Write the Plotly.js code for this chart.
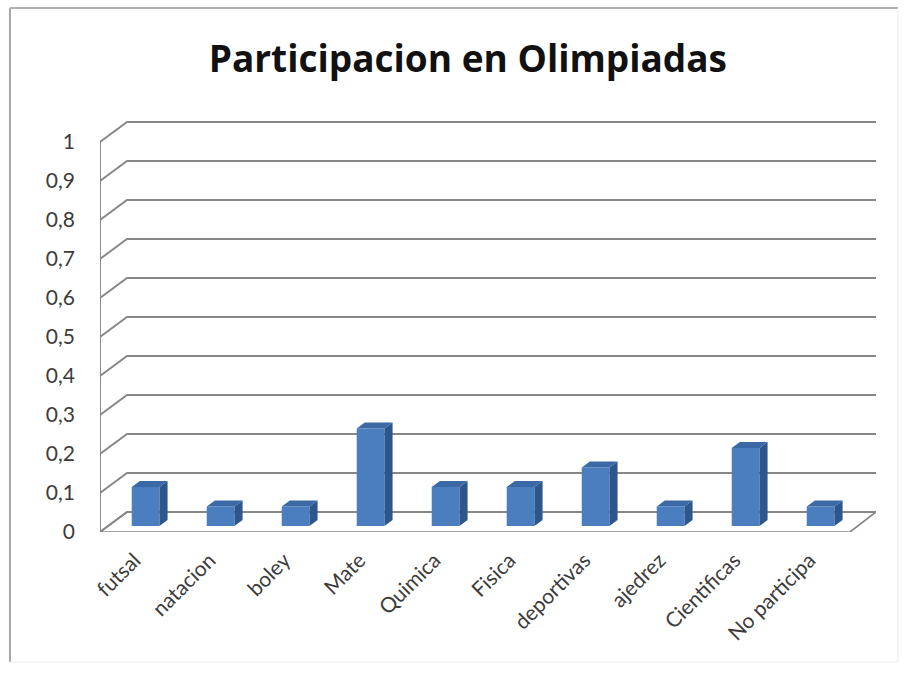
<!DOCTYPE html>
<html>
<head>
<meta charset="utf-8">
<script src="https://cdn.plot.ly/plotly-3.0.1.min.js"></script>
<style>html,body{margin:0;padding:0;background:#fff;}#chart{width:912px;height:675px;}</style>
</head>
<body>
<div id="chart"></div>
<script>
// ---- data ----
const categories = ['futsal','natacion','boley','Mate','Quimica','Fisica','deportivas','ajedrez','Cientificas','No participa'];
const values = [0.1, 0.05, 0.05, 0.25, 0.1, 0.1, 0.15, 0.05, 0.2, 0.05];
const yTickVals = [0, 0.1, 0.2, 0.3, 0.4, 0.5, 0.6, 0.7, 0.8, 0.9, 1];
const yTickText = ['0','0,1','0,2','0,3','0,4','0,5','0,6','0,7','0,8','0,9','1'];
const titleText = 'Participacion en Olimpiadas';

// ---- pseudo-3D geometry (in axis units) ----
const DX = 0.36, DY = 0.0513;      // depth offset of back wall
const D0 = 0.3, D1 = 0.6;           // bar depth span (fraction)
const BW = 0.37;                    // bar width
const XMIN = -0.5, XMAX = categories.length - 0.5 + DX * 0.963;
const YMAX = 1 + DY + 0.0025;

// grid on back wall + diagonals on left wall
const gx = [], gy = [];
yTickVals.forEach(v => {
  gx.push(XMIN, XMIN + DX, XMAX, null);
  gy.push(v, v + DY, v + DY, null);
});
// front vertical axis
gx.push(XMIN, XMIN, null); gy.push(0, yTickVals[yTickVals.length-1], null);

// floor
const fx = [XMIN, categories.length - 0.5, categories.length - 0.5 + DX*0.963, XMIN + DX, XMIN];
const fy = [0, 0, DY, DY, 0];

const idx = categories.map((_, i) => i);
const centers = idx.map(i => i + D0 * DX);
const base = D0 * DY;
const ddx = (D1 - D0) * DX, ddy = (D1 - D0) * DY;

const sx = [], sy = [], tx = [], ty = [];
values.forEach((v, i) => {
  const xl = centers[i] - BW/2, xr = centers[i] + BW/2, top = base + v;
  sx.push(xr, xr + ddx, xr + ddx, xr, xr, null);
  sy.push(base, base + ddy, top + ddy, top, base, null);
  tx.push(xl, xl + ddx, xr + ddx, xr, xl, null);
  ty.push(top, top + ddy, top + ddy, top, top, null);
});

const traces = [
  {type:'scatter', mode:'lines', x: fx, y: fy, line:{color:'#878787', width:1.7}, hoverinfo:'skip', xaxis:'x', yaxis:'y'},
  {type:'scatter', mode:'lines', x: gx, y: gy, line:{color:'#878787', width:1.9}, hoverinfo:'skip', xaxis:'x', yaxis:'y'},
  {type:'bar', x: centers, y: values, base: values.map(() => base), width: BW,
   marker:{color:'#4a7ebe', line:{width:0}}, hoverinfo:'skip', xaxis:'x2', yaxis:'y2'},
  {type:'scatter', mode:'lines', x: sx, y: sy, fill:'toself', fillcolor:'#2d578c', line:{width:0, color:'#2d578c'}, hoverinfo:'skip', xaxis:'x2', yaxis:'y2'},
  {type:'scatter', mode:'lines', x: tx, y: ty, fill:'toself', fillcolor:'#3b69a6', line:{width:0, color:'#3b69a6'}, hoverinfo:'skip', xaxis:'x2', yaxis:'y2'}
];

const hidden = {showgrid:false, zeroline:false, showline:false, showticklabels:false, ticks:'', fixedrange:true};

const layout = {
  width: 912, height: 675,
  margin: {l:100, r:36, t:121, b:143},
  paper_bgcolor: '#ffffff', plot_bgcolor: 'rgba(0,0,0,0)',
  showlegend: false, hovermode: false,
  font: {family: 'Lato, "Open Sans", sans-serif', color: '#404040'},
  title: {text: '<b>' + titleText + '</b>', font:{family:'"Open Sans", Lato, sans-serif', size:37, color:'#111'},
          xref:'container', x: 0.513, xanchor:'center', yref:'container', y: 1 - 59/675, yanchor:'middle'},
  xaxis: {range:[XMIN, XMAX], tickvals: idx, ticktext: categories, tickangle: -45,
          showgrid:false, zeroline:false, showline:false, ticks:'', ticklabelstandoff: 11, ticklabelshift: -3,
          tickfont:{size:21, color:'#3c3c3c'}, fixedrange:true},
  yaxis: {range:[0, YMAX], tickvals: yTickVals, ticktext: yTickText,
          showgrid:false, zeroline:false, showline:false, ticks:'', ticklabelstandoff: 24,
          tickfont:{size:21, color:'#3c3c3c'}, fixedrange:true},
  xaxis2: Object.assign({range:[XMIN, XMAX], overlaying:'x'}, hidden),
  yaxis2: Object.assign({range:[0, YMAX], overlaying:'y'}, hidden),
  shapes: [
    {type:'line', xref:'paper', yref:'paper', x0:-0.116, x1:-0.116, y0:-0.3163, y1:1.2749, line:{color:'#a8a8a8', width:2}},
    {type:'line', xref:'paper', yref:'paper', x0:-0.116, x1:1.0284, y0:1.2749, y1:1.2749, line:{color:'#b0b0b0', width:2}},
    {type:'line', xref:'paper', yref:'paper', x0:1.0284, x1:1.0284, y0:-0.3163, y1:1.2749, line:{color:'#ececec', width:1}},
    {type:'line', xref:'paper', yref:'paper', x0:-0.116, x1:1.0284, y0:-0.3163, y1:-0.3163, line:{color:'#ececec', width:1}}
  ]
};

Plotly.newPlot('chart', traces, layout, {displayModeBar:false, staticPlot:true});
</script>
</body>
</html>
